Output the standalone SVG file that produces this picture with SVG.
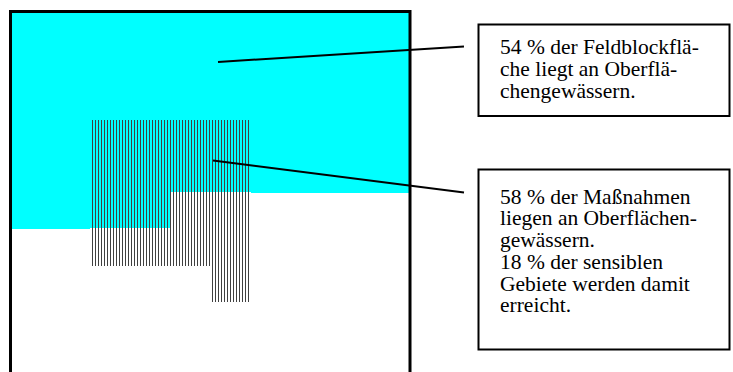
<svg xmlns="http://www.w3.org/2000/svg" width="733" height="372" viewBox="0 0 733 372">
<style>
.lbl{font-family:"Liberation Serif","Times New Roman",serif;font-size:21.5px;fill:#000}
.box{fill:#fff;stroke:#000;stroke-width:2}
.conn{stroke:#000;stroke-width:2;fill:none}
</style>
<defs>
<pattern id="hatch" patternUnits="userSpaceOnUse" x="92" y="0" width="3" height="10">
<rect x="0" y="0" width="1" height="10" fill="#404040"/>
</pattern>
</defs>
<rect width="733" height="372" fill="#fff"/>
<g id="area">
<polygon points="12,13 409,13 409,193 251,193 251,192 170,192 170,228 90,228 90,229 12,229" fill="#00ffff"/>
</g>
<g id="measures">
<rect x="92" y="120" width="157" height="146" fill="url(#hatch)"/>
<rect x="212" y="266" width="37" height="36" fill="url(#hatch)"/>
</g>
<g id="frame">
<rect x="10.5" y="11.5" width="399.5" height="380" fill="none" stroke="#000" stroke-width="3"/>
</g>
<g id="connectors">
<line class="conn" x1="218" y1="62" x2="464" y2="46.5"/>
<line class="conn" x1="213" y1="160.5" x2="464" y2="192.5"/>
</g>
<g id="box1">
<rect class="box" x="478.5" y="24.5" width="251" height="91.5"/>
<text class="lbl" x="500" y="54">54 % der Feldblockflä-</text>
<text class="lbl" x="500" y="76">che liegt an Oberflä-</text>
<text class="lbl" x="500" y="98">chengewässern.</text>
</g>
<g id="box2">
<rect class="box" x="478.5" y="169.5" width="251" height="180"/>
<text class="lbl" x="500" y="203.5">58 % der Maßnahmen</text>
<text class="lbl" x="500" y="225.3">liegen an Oberflächen-</text>
<text class="lbl" x="500" y="247">gewässern.</text>
<text class="lbl" x="500" y="268.8">18 % der sensiblen</text>
<text class="lbl" x="500" y="290.6">Gebiete werden damit</text>
<text class="lbl" x="500" y="312.4">erreicht.</text>
</g>
</svg>
